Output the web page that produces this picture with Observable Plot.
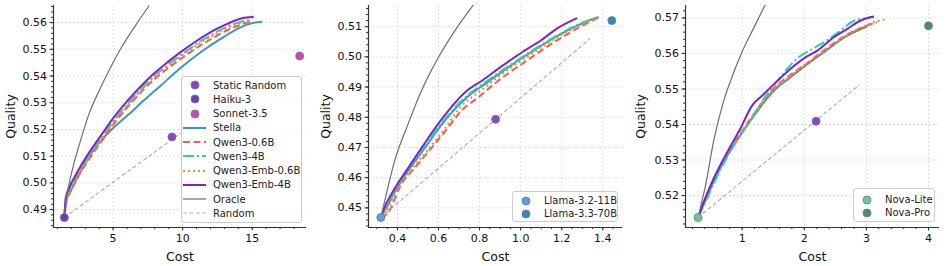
<!DOCTYPE html>
<html><head><meta charset="utf-8">
<script src="https://cdn.jsdelivr.net/npm/d3@7"></script>
<script src="https://cdn.jsdelivr.net/npm/@observablehq/plot@0.6"></script>
<style>
body{margin:0;background:#fff;font-family:"DejaVu Sans",sans-serif;}
#wrap{display:flex;width:946px;height:266px;}
.panel{position:relative;}
.legend{position:absolute;background:rgba(255,255,255,0.85);border:1px solid #cccccc;border-radius:3px;box-sizing:border-box;font-size:10px;color:#222;}
.row{position:absolute;left:0;display:flex;align-items:center;height:14px;white-space:nowrap;}
.row svg{display:block;}
</style></head><body>
<div id="wrap"></div>
<script>
// ---------- Panel 1 (Claude: Haiku-3 / Sonnet-3.5) ----------
const p1Stella = [[1.5,.487],[1.7,.4945],[1.9,.4965],[2.7,.5045],[3.64,.5127],[4.8,.5195],[6.03,.5252],[7.2,.5308],[8.42,.5364],[9.8,.5428],[11.29,.5489],[12.7,.5538],[14.16,.5582],[15.0,.5598],[15.72,.5603]];
const p1Qwen06 = [[1.5,.487],[1.65,.4935],[1.9,.4962],[2.65,.5038],[3.4,.5098],[4.2,.5158],[5.05,.5221],[6.1,.5287],[7.1,.5345],[8.1,.5394],[9.05,.5433],[10.15,.5475],[11.15,.5510],[12.25,.5545],[13.35,.5575],[14.2,.5592],[15.0,.5605]];
const p1Qwen4 = [[1.5,.487],[1.62,.494],[1.85,.4968],[2.6,.5045],[3.35,.5106],[4.15,.5166],[5.0,.5229],[6.05,.5296],[7.05,.5354],[8.05,.5404],[9.0,.5444],[10.1,.5487],[11.1,.5524],[12.2,.5558],[13.3,.5587],[14.2,.5603],[15.0,.5612]];
const p1Emb06 = [[1.5,.487],[1.63,.4938],[1.87,.4965],[2.62,.5042],[3.37,.5102],[4.17,.5162],[5.02,.5225],[6.07,.5292],[7.07,.535],[8.07,.54],[9.02,.5440],[10.12,.5483],[11.12,.5519],[12.22,.5553],[13.3,.5582],[14.2,.5598],[15.0,.5608]];
const p1Emb4 = [[1.5,.487],[1.6,.4945],[1.8,.4975],[2.56,.5052],[3.3,.5115],[4.1,.5175],[4.96,.5239],[6.0,.5305],[7.0,.5362],[8.0,.5412],[8.9,.5451],[10.0,.5495],[11.05,.5533],[12.1,.5567],[13.2,.5595],[14.2,.5615],[15.11,.5622]];
const p1Oracle = [[1.5,.487],[1.6,.4935],[1.75,.4975],[2.2,.5075],[2.7,.5165],[3.3,.5262],[4.0,.5345],[4.8,.5430],[5.6,.5507],[6.6,.5588],[7.6,.5664]];
const p1Random = [[1.5,.487],[15.4,.5395]];
const p1Points = [["Static Random",9.23,.5172],["Haiku-3",1.5,.487],["Sonnet-3.5",18.41,.5475]];

// ---------- Panel 2 (Llama) ----------
const p2Stella = [[0.319,.4468],[0.34,.4492],[0.39,.4556],[0.46,.4630],[0.53,.4695],[0.62,.4780],[0.74,.4867],[0.83,.4912],[0.92,.4956],[1.02,.5002],[1.12,.5045],[1.22,.5084],[1.3,.5111],[1.38,.5132]];
const p2Qwen06 = [[0.319,.4468],[0.35,.4480],[0.42,.4580],[0.48,.4629],[0.582,.4712],[0.64,.4760],[0.712,.4822],[0.794,.4866],[0.88,.4915],[0.96,.4955],[1.04,.4992],[1.12,.5030],[1.22,.5072],[1.3,.5103],[1.38,.5130]];
const p2Qwen4 = [[0.319,.4468],[0.34,.4495],[0.39,.4560],[0.46,.4635],[0.53,.4700],[0.62,.4785],[0.74,.4872],[0.83,.4917],[0.92,.4960],[1.02,.5005],[1.12,.5048],[1.22,.5087],[1.3,.5113],[1.38,.5132]];
const p2Emb06 = [[0.319,.4468],[0.345,.449],[0.40,.4560],[0.47,.4628],[0.54,.4685],[0.63,.4762],[0.712,.4838],[0.80,.4885],[0.88,.4928],[0.96,.4968],[1.04,.5003],[1.12,.5040],[1.22,.5080],[1.3,.5108],[1.38,.5132]];
const p2Emb4 = [[0.319,.4468],[0.33,.449],[0.38,.4557],[0.45,.4630],[0.52,.4701],[0.61,.4789],[0.73,.4883],[0.82,.4925],[0.9,.4965],[1.0,.5012],[1.1,.5055],[1.18,.5095],[1.275,.5128]];
const p2Oracle = [[0.319,.4468],[0.33,.4500],[0.346,.4546],[0.387,.4657],[0.452,.4778],[0.517,.4888],[0.599,.4998],[0.68,.5087],[0.761,.5164],[0.80,.5198]];
const p2Random = [[0.319,.4468],[1.339,.5061]];
const p2Points = [["Static Random",0.878,.4793],["Llama-3.2-11B",0.319,.4468],["Llama-3.3-70B",1.444,.512]];

// ---------- Panel 3 (Nova) ----------
const p3Stella = [[0.29,.5138],[0.49,.5219],[0.7,.5294],[0.97,.5369],[1.19,.5425],[1.51,.5495],[1.78,.5533],[2.05,.5570],[2.31,.5603],[2.69,.5650],[3.01,.5676]];
const p3Qwen06 = [[0.29,.5138],[0.48,.5222],[0.7,.5298],[0.97,.5374],[1.19,.5430],[1.5,.5500],[1.78,.5540],[2.05,.5573],[2.31,.5608],[2.69,.5653],[3.0,.5678],[3.17,.5688]];
const p3Qwen4 = [[0.29,.5138],[0.4,.5178],[0.56,.5240],[0.78,.5315],[1.0,.5378],[1.21,.5434],[1.4,.5485],[1.6,.5530],[1.88,.5585],[2.1,.5610],[2.31,.5631],[2.55,.5660],[2.8,.5692],[3.0,.5700],[3.17,.5704]];
const p3Emb06 = [[0.29,.5138],[0.47,.5220],[0.69,.5297],[0.96,.5372],[1.19,.5428],[1.5,.5498],[1.78,.5537],[2.05,.5572],[2.31,.5606],[2.69,.5652],[3.0,.5680],[3.2,.5692],[3.33,.5697]];
const p3Emb4 = [[0.29,.5138],[0.38,.5181],[0.54,.5247],[0.76,.5322],[0.97,.5388],[1.16,.5453],[1.32,.5481],[1.55,.5520],[1.78,.5557],[2.02,.5589],[2.21,.5608],[2.47,.5645],[2.7,.567],[2.9,.5692],[3.12,.5704]];
const p3Oracle = [[0.29,.5138],[0.34,.5175],[0.41,.5228],[0.543,.5355],[0.704,.5467],[0.865,.5547],[1.0,.5605],[1.187,.5672],[1.36,.5733],[1.40,.5747]];
const p3Random = [[0.29,.5138],[2.89,.5512]];
const p3Points = [["Static Random",2.19,.5409],["Nova-Lite",0.29,.5138],["Nova-Pro",4.0,.5678]];

// tick labels
const p1XTicks = [5,10,15], p1YTicks = [0.49,0.50,0.51,0.52,0.53,0.54,0.55,0.56];
const p2XTicks = [0.4,0.6,0.8,1.0,1.2,1.4], p2YTicks = [0.45,0.46,0.47,0.48,0.49,0.50,0.51];
const p3XTicks = [1,2,3,4], p3YTicks = [0.52,0.53,0.54,0.55,0.56,0.57];

// styles
const seriesStyle = {
  "Stella": {stroke:"#3d95bd", width:2, dash:null, curve:"monotone-x"},
  "Qwen3-0.6B": {stroke:"#f25c5c", width:2, dash:"7,3.5", curve:"monotone-x"},
  "Qwen3-4B": {stroke:"#22d6a6", width:2, dash:"11,3,2,3", curve:"monotone-x"},
  "Qwen3-Emb-0.6B": {stroke:"#ff8c1a", width:2, dash:"2,3", curve:"monotone-x"},
  "Qwen3-Emb-4B": {stroke:"#7f1fd9", width:2, dash:null, curve:"monotone-x"},
  "Oracle": {stroke:"#6e6e6e", width:1.2, dash:null, curve:"monotone-x"},
  "Random": {stroke:"#b3b3b3", width:1.2, dash:"4,2.5", curve:"linear"}
};
const pointColor = {"Static Random":"#8a45c8","Haiku-3":"#6c3cb4","Sonnet-3.5":"#c24cb6",
  "Llama-3.2-11B":"#5b9cf0","Llama-3.3-70B":"#2f8cba","Nova-Lite":"#6cc6a0","Nova-Pro":"#4e8a72"};

function minorRange(lo, hi, step){ const out=[]; const n0=Math.ceil(lo/step-1e-9), n1=Math.floor(hi/step+1e-9); for(let i=n0;i<=n1;i++) out.push(+(i*step).toFixed(6)); return out; }

function makePanel(cfg){
  const series = [["Stella",cfg.stella],["Qwen3-0.6B",cfg.q06],["Qwen3-4B",cfg.q4],["Qwen3-Emb-0.6B",cfg.e06],["Qwen3-Emb-4B",cfg.e4],["Oracle",cfg.oracle],["Random",cfg.random]];
  const marks = [
    Plot.gridX(cfg.xTicks,{stroke:"#d9d9d9",strokeOpacity:1,strokeDasharray:"2,2",strokeWidth:0.8}),
    Plot.gridY(cfg.yTicks,{stroke:"#d9d9d9",strokeOpacity:1,strokeDasharray:"2,2",strokeWidth:0.8}),
  ];
  for (const [name,data] of series){
    const s = seriesStyle[name];
    marks.push(Plot.line(data,{x:d=>d[0],y:d=>d[1],stroke:s.stroke,strokeWidth:s.width,strokeDasharray:s.dash,curve:s.curve,clip:true,strokeLinecap:"butt"}));
  }
  marks.push(Plot.dot(cfg.points,{x:d=>d[1],y:d=>d[2],fill:d=>pointColor[d[0]],stroke:"#777",strokeWidth:0.8,r:4}));
  marks.push(Plot.axisX({ticks:minorRange(cfg.xDomain[0],cfg.xDomain[1],cfg.xMinor),tickSize:2,text:null,label:null,stroke:"#333"}));
  marks.push(Plot.axisY({ticks:minorRange(cfg.yDomain[0],cfg.yDomain[1],cfg.yMinor),tickSize:2,text:null,label:null,stroke:"#333"}));
  marks.push(Plot.axisX({ticks:cfg.xTicks,tickSize:3.5,tickPadding:3,tickFormat:cfg.xFormat,label:"Cost",labelAnchor:"center",labelArrow:"none",labelOffset:33,fontSize:11,stroke:"#333"}));
  marks.push(Plot.axisY({ticks:cfg.yTicks,tickSize:3.5,tickPadding:3,tickFormat:".2f",label:"Quality",labelAnchor:"center",labelArrow:"none",labelOffset:cfg.mL-6,fontSize:11,stroke:"#333"}));
  marks.push(Plot.ruleX([cfg.xDomain[0]],{stroke:"#333",strokeWidth:1.2}));
  marks.push(Plot.ruleY([cfg.yDomain[0]],{stroke:"#333",strokeWidth:1.2}));
  const chart = Plot.plot({
    width:cfg.w, height:266, marginLeft:cfg.mL, marginRight:cfg.mR, marginTop:5, marginBottom:39,
    style:{fontFamily:"DejaVu Sans",fontSize:"11px",color:"#111",background:"#fff"},
    x:{domain:cfg.xDomain}, y:{domain:cfg.yDomain},
    marks
  });
  chart.querySelectorAll("g[aria-label='x-axis label'] text, g[aria-label='y-axis label'] text").forEach(t=>t.setAttribute("font-size","12.5"));
  return chart;
}

function handleSVG(item){
  const w=26,h=12;
  if (item.type==="dot") return `<svg width="${w}" height="${h}"><circle cx="13" cy="6" r="4" fill="${pointColor[item.name]}" stroke="#777" stroke-width="0.8"/></svg>`;
  const s = seriesStyle[item.name];
  return `<svg width="${w}" height="${h}"><line x1="1" x2="24" y1="6" y2="6" stroke="${s.stroke}" stroke-width="${s.width}" ${s.dash?`stroke-dasharray="${s.dash}"`:""}/></svg>`;
}
function addLegend(panel, box, items, rowH, firstCenter){
  const lg = document.createElement("div");
  lg.className="legend";
  Object.assign(lg.style,{left:box[0]+"px",top:box[1]+"px",width:box[2]+"px",height:box[3]+"px"});
  items.forEach((it,i)=>{
    const r=document.createElement("div"); r.className="row";
    r.style.top=(firstCenter+i*rowH-7)+"px";
    r.innerHTML=handleSVG(it)+`<span style="margin-left:5px">${it.name}</span>`;
    lg.appendChild(r);
  });
  panel.appendChild(lg);
}

const wrap=document.getElementById("wrap");
const panels=[
 {w:315,mL:53,mR:9,xDomain:[0.72,18.9],yDomain:[0.4833,0.5664],xTicks:p1XTicks,yTicks:p1YTicks,xMinor:1,yMinor:0.002,xFormat:"d",
  stella:p1Stella,q06:p1Qwen06,q4:p1Qwen4,e06:p1Emb06,e4:p1Emb4,oracle:p1Oracle,random:p1Random,points:p1Points,
  legend:{box:[181,76,121,147],rowH:14.25,first:8.2,items:[
    {type:"dot",name:"Static Random"},{type:"dot",name:"Haiku-3"},{type:"dot",name:"Sonnet-3.5"},
    {type:"line",name:"Stella"},{type:"line",name:"Qwen3-0.6B"},{type:"line",name:"Qwen3-4B"},
    {type:"line",name:"Qwen3-Emb-0.6B"},{type:"line",name:"Qwen3-Emb-4B"},{type:"line",name:"Oracle"},{type:"line",name:"Random"}]}},
 {w:315,mL:53,mR:8,xDomain:[0.259,1.496],yDomain:[0.4435,0.517],xTicks:p2XTicks,yTicks:p2YTicks,xMinor:0.05,yMinor:0.002,xFormat:".1f",
  stella:p2Stella,q06:p2Qwen06,q4:p2Qwen4,e06:p2Emb06,e4:p2Emb4,oracle:p2Oracle,random:p2Random,points:p2Points,
  legend:{box:[197,191,106,31],rowH:13.2,first:8.5,items:[{type:"dot",name:"Llama-3.2-11B"},{type:"dot",name:"Llama-3.3-70B"}]}},
 {w:316,mL:55,mR:7,xDomain:[0.088,4.177],yDomain:[0.511,0.5735],xTicks:p3XTicks,yTicks:p3YTicks,xMinor:0.2,yMinor:0.002,xFormat:"d",
  stella:p3Stella,q06:p3Qwen06,q4:p3Qwen4,e06:p3Emb06,e4:p3Emb4,oracle:p3Oracle,random:p3Random,points:p3Points,
  legend:{box:[223,188,82,34],rowH:13.4,first:10.5,items:[{type:"dot",name:"Nova-Lite"},{type:"dot",name:"Nova-Pro"}]}}
];
for (const cfg of panels){
  const div=document.createElement("div"); div.className="panel"; div.style.width=cfg.w+"px";
  div.appendChild(makePanel(cfg));
  addLegend(div,cfg.legend.box,cfg.legend.items,cfg.legend.rowH,cfg.legend.first);
  wrap.appendChild(div);
}
</script>
</body></html>
